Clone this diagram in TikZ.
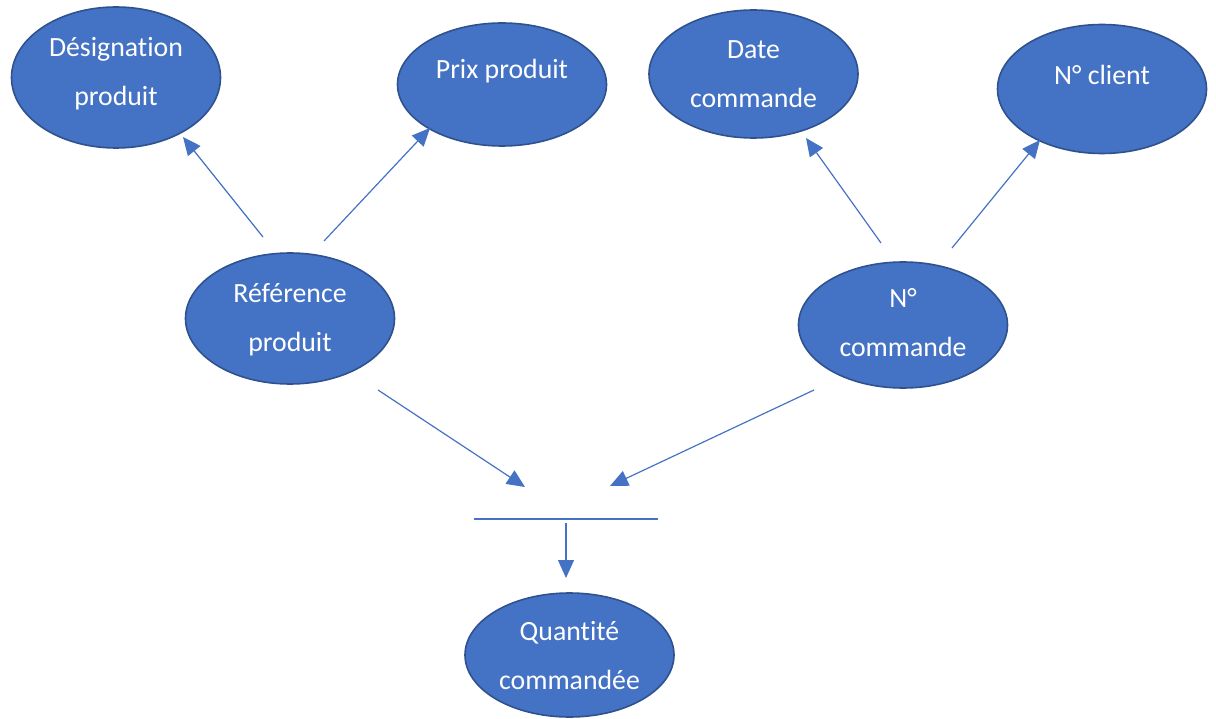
\documentclass[tikz,border=0pt]{standalone}
\usepackage{fontspec}
\setmainfont{Carlito}[Ligatures={NoCommon}]
\usetikzlibrary{shapes.geometric,arrows.meta}
\definecolor{fillblue}{HTML}{4472C4}
\definecolor{edgeblue}{HTML}{2F528F}
\definecolor{lineblue}{HTML}{4472C4}
\tikzset{
  attr/.style={ellipse, draw=edgeblue, fill=fillblue, line width=1.6pt,
    minimum width=209pt, inner sep=0pt},
  % anchor=base sits on the last line's baseline
  lbl/.style={text=white, align=center, anchor=base, inner sep=0pt,
    font=\fontsize{27.8}{49}\selectfont},
  arr/.style={draw=lineblue, line width=1.2pt,
    -{Triangle[length=18pt,width=16pt]}},
  bar/.style={draw=lineblue, line width=1.2pt}
}
\begin{document}
\begin{tikzpicture}[x=1pt,y=-1pt]
\useasboundingbox (0,0) rectangle (1216,719);

% attribute ellipses
\node[attr, minimum height=141pt] (desig) at (116,77.5) {};
\node[attr, minimum height=123pt] (prix)  at (502,84.5) {};
\node[attr, minimum height=128pt] (date)  at (753.5,74) {};
\node[attr, minimum height=129pt] (client) at (1102,89) {};
\node[attr, minimum height=131pt] (ref)   at (290,318.5) {};
\node[attr, minimum height=126pt] (cmd)   at (903,325) {};
\node[attr, minimum height=124pt] (qte)   at (569.5,655) {};

% labels
\node[lbl] (tdesig)  at (116,105.5)  {Désignation\\produit};
\node[lbl] (tprix)   at (502,78.5)   {Prix produit};
\node[lbl] (tdate)   at (753.5,107.5) {Date\\commande};
\node[lbl] (tclient) at (1102,84.5)  {N° client};
\node[lbl] (tref)    at (290,351.5)  {Référence\\produit};
\node[lbl] (tcmd)    at (903,357)    {N°\\commande};
\node[lbl] (tqte)    at (569.5,689.5) {Quantité\\commandée};

% connector end points
\coordinate (rd0) at (263,237);  \coordinate (rd1) at (183,137);
\coordinate (rp0) at (324,241);  \coordinate (rp1) at (430,128);
\coordinate (cd0) at (881,243);  \coordinate (cd1) at (806,138);
\coordinate (cc0) at (952,248);  \coordinate (cc1) at (1040,140);
\coordinate (rj0) at (378,390);  \coordinate (rj1) at (525,487);
\coordinate (cj0) at (814,390);  \coordinate (cj1) at (610,486);
\coordinate (barL) at (474,519); \coordinate (barR) at (658,519);
\coordinate (dn0) at (566,523);  \coordinate (dn1) at (566,578);

% dependencies
\draw[arr] (rd0) -- (rd1);
\draw[arr] (rp0) -- (rp1);
\draw[arr] (cd0) -- (cd1);
\draw[arr] (cc0) -- (cc1);
\draw[arr] (rj0) -- (rj1);
\draw[arr] (cj0) -- (cj1);
\draw[bar] (barL) -- (barR);
\draw[arr] (dn0) -- (dn1);
\end{tikzpicture}
\end{document}
